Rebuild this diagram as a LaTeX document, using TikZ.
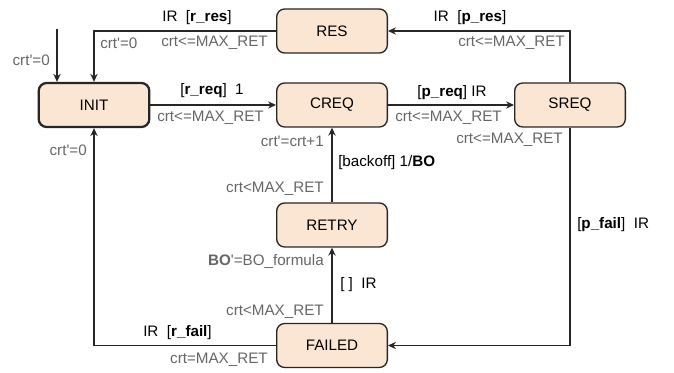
\documentclass[tikz,border=0pt]{standalone}
\usepackage{fontspec}
\setmainfont{Liberation Sans}
\usetikzlibrary{arrows.meta}
\definecolor{statefill}{HTML}{FBE5D3}
\definecolor{condgray}{HTML}{666666}
% straight prime mark
\newcommand{\pr}{\textquotesingle}
\begin{document}
\begin{tikzpicture}[x=0.75pt,y=-0.75pt,
  font=\fontsize{11.4pt}{13pt}\selectfont,
  state/.style={draw=black!85, fill=statefill, rounded corners=6pt,
    line width=1pt, minimum width=83pt, minimum height=33pt, inner sep=0pt},
  initstate/.style={state, line width=1.7pt},
  arr/.style={draw=black!85, line width=0.9pt,
    -{Stealth[length=6pt,width=5.5pt,inset=2pt]}},
  act/.style={inner sep=0pt, text=black},
  cond/.style={inner sep=0pt, text=condgray}]
\useasboundingbox (0,0) rectangle (674,373);

% states
\node[initstate] (INIT) at (94,105) {INIT};
\node[state] (CREQ) at (332,105) {CREQ};
\node[state] (SREQ) at (570,105) {SREQ};
\node[state] (RES) at (332,31) {RES};
\node[state] (RETRY) at (332,225) {RETRY};
\node[state] (FAILED) at (332,345.5) {FAILED};

% transitions
\coordinate (start) at (57,29);
\draw[arr] (start) -- (start |- INIT.north);
\draw[arr] (RES.west) -| (INIT.north);
\draw[arr] (INIT.east) -- (CREQ.west);
\draw[arr] (CREQ.east) -- (SREQ.west);
\draw[arr] (SREQ.north) |- (RES.east);
\draw[arr] (SREQ.south) |- (FAILED.east);
\draw[arr] (FAILED.west) -| (INIT.south);
\draw[arr] (FAILED.north) -- (RETRY.south);
\draw[arr] (RETRY.north) -- (CREQ.south);

% transition labels
\node[act] (lresa) at (197,18) {IR\ \ [\textbf{r\_res}]};
\node[cond, anchor=west] (lresb) at (100,43) {crt\pr=0};
\node[cond, anchor=east] (lresc) at (268,43) {crt<=MAX\_RET};
\node[cond, anchor=east] (lstart) at (50,60) {crt\pr=0};
\node[act] (lreqa) at (212,91) {[\textbf{r\_req}]\ \ 1};
\node[cond, anchor=west] (lreqb) at (157,118) {crt<=MAX\_RET};
\node[act] (lpreqa) at (452,93) {[\textbf{p\_req}] IR};
\node[cond, anchor=west] (lpreqb) at (395,118) {crt<=MAX\_RET};
\node[act] (lpresa) at (470,18) {IR\ \ [\textbf{p\_res}]};
\node[cond, anchor=east] (lpresb) at (565,43) {crt<=MAX\_RET};
\node[cond, anchor=east] (lpfailb) at (563,140) {crt<=MAX\_RET};
\node[act, anchor=west] (lpfaila) at (577,225) {[\textbf{p\_fail}]\ \ IR};
\node[cond, anchor=east] (lrfailc) at (87,150) {crt\pr=0};
\node[cond, anchor=east] (lboc) at (324,141) {crt\pr=crt+1};
\node[act, anchor=west] (lboa) at (338,163) {[backoff] 1/\textbf{BO}};
\node[cond, anchor=east] (lbob) at (324,189) {crt<MAX\_RET};
\node[cond, anchor=east] (lretc) at (324,262) {\textbf{BO}\pr=BO\_formula};
\node[act, anchor=west] (lreta) at (340,285) {[ ]\ \ IR};
\node[cond, anchor=east] (lretb) at (324,312) {crt<MAX\_RET};
\node[act, anchor=west] (lrfaila) at (143,333) {IR\ \ [\textbf{r\_fail}]};
\node[cond, anchor=east] (lrfailb) at (268,360) {crt=MAX\_RET};
\end{tikzpicture}
\end{document}
